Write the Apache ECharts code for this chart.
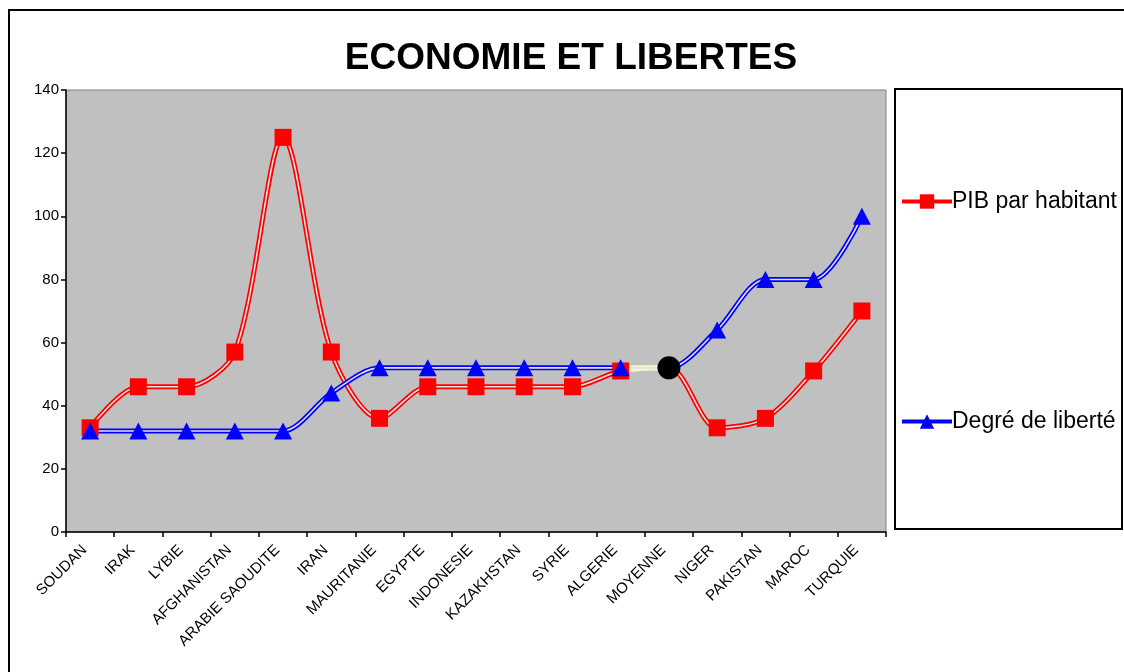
<!DOCTYPE html>
<html>
<head>
<meta charset="utf-8">
<script src="https://cdn.jsdelivr.net/npm/echarts@6/dist/echarts.min.js"></script>
<style>
  html, body { margin: 0; padding: 0; background: #fff; }
  #chart { width: 1124px; height: 672px; }
</style>
</head>
<body>
<div id="chart"></div>
<script>
const categories = ['SOUDAN', 'IRAK', 'LYBIE', 'AFGHANISTAN', 'ARABIE SAOUDITE', 'IRAN', 'MAURITANIE',
  'EGYPTE', 'INDONESIE', 'KAZAKHSTAN', 'SYRIE', 'ALGERIE', 'MOYENNE', 'NIGER', 'PAKISTAN', 'MAROC', 'TURQUIE']
const pibValues = [33, 46, 46, 57, 125, 57, 36, 46, 46, 46, 46, 51, 52, 33, 36, 51, 70]
const liberteValues = [32, 32, 32, 32, 32, 44, 52, 52, 52, 52, 52, 52, 52, 64, 80, 80, 100]
const yTicks = [0, 20, 40, 60, 80, 100, 120, 140]

const moyenneIndex = categories.indexOf('MOYENNE')
const font = 'Liberation Sans, Arial, sans-serif'
const red = '#ff0000'
const blue = '#0000ff'
const pale = '#f6f6c8'
const gap = '#e2e2e2'
const smooth = 0.3

// marker series: square / triangle, MOYENNE drawn as a big black dot on the red one
const pibMarkers = pibValues.map((v, i) =>
  i === moyenneIndex ? { value: v, symbol: 'circle', symbolSize: 23, itemStyle: { color: '#000' } } : v)
const liberteMarkers = liberteValues.map((v, i) =>
  i === moyenneIndex ? { value: v, symbol: 'none' } : v)

// outer stroke takes its colour from the visualMap (pale segment ALGERIE -> MOYENNE)
function outerLine(data, z) {
  return {
    type: 'line', name: 'outer', data, smooth, showSymbol: false, silent: true, z,
    lineStyle: { width: 5 }
  }
}
function innerLine(data, z) {
  return {
    type: 'line', name: 'inner', data, smooth, showSymbol: false, silent: true, z,
    lineStyle: { color: gap, width: 1.6 }
  }
}
function segmentPieces(color) {
  return [
    { max: moyenneIndex - 1, color },
    { gt: moyenneIndex - 1, lt: moyenneIndex, color: pale },
    { min: moyenneIndex, color }
  ]
}

const chart = echarts.init(document.getElementById('chart'))

chart.setOption({
  animation: false,
  textStyle: { fontFamily: font, color: '#000' },
  title: {
    text: 'ECONOMIE ET LIBERTES',
    left: 566,
    textAlign: 'center',
    top: 35,
    textStyle: { fontFamily: font, fontSize: 37, fontWeight: 'bold', color: '#000' }
  },
  graphic: [
    { type: 'rect', z: -10, shape: { x: 9, y: 10, width: 1200, height: 800 },
      style: { fill: 'none', stroke: '#000', lineWidth: 2 } },
    { type: 'rect', z: -10, shape: { x: 895, y: 89, width: 227, height: 440 },
      style: { fill: '#fff', stroke: '#000', lineWidth: 2 } }
  ],
  legend: {
    data: ['PIB par habitant', 'Degré de liberté'],
    orient: 'vertical',
    left: 895,
    top: 185,
    itemWidth: 50,
    itemHeight: 18,
    itemGap: 197,
    textStyle: { fontFamily: font, fontSize: 23, color: '#000', padding: [0, 0, 0, -5] },
    lineStyle: { opacity: 1, width: 4 }
  },
  visualMap: [
    { show: false, type: 'piecewise', seriesIndex: 0, dimension: 0, pieces: segmentPieces(red) },
    { show: false, type: 'piecewise', seriesIndex: 2, dimension: 0, pieces: segmentPieces(blue) }
  ],
  grid: {
    left: 66, right: 238, top: 90, bottom: 140,
    show: true, backgroundColor: '#c0c0c0', borderColor: '#808080', borderWidth: 1
  },
  xAxis: {
    type: 'category',
    data: categories,
    boundaryGap: true,
    axisLine: { lineStyle: { color: '#000', width: 1.5 } },
    axisTick: { show: true, length: 5, interval: 0, lineStyle: { color: '#000', width: 1.5 } },
    axisLabel: {
      interval: 0, rotate: 45, margin: 10, fontSize: 15, color: '#000', fontFamily: font,
      padding: [0, 8, 0, 0]
    },
    splitLine: { show: false }
  },
  yAxis: {
    type: 'value',
    min: yTicks[0],
    max: yTicks[yTicks.length - 1],
    interval: 20,
    axisLine: { show: true, lineStyle: { color: '#000', width: 1.5 } },
    axisTick: { show: true, length: 5, lineStyle: { color: '#000', width: 1.5 } },
    axisLabel: { fontSize: 15, color: '#000', fontFamily: font, margin: 7 },
    splitLine: { show: false }
  },
  series: [
    outerLine(pibValues, 2),
    innerLine(pibValues, 3),
    outerLine(liberteValues, 4),
    innerLine(liberteValues, 5),
    {
      type: 'line', name: 'PIB par habitant', data: pibMarkers, z: 6,
      symbol: 'rect', symbolSize: 17,
      itemStyle: { color: red },
      lineStyle: { color: red, opacity: 0 }
    },
    {
      type: 'line', name: 'Degré de liberté', data: liberteMarkers, z: 7,
      symbol: 'triangle', symbolSize: [18, 17],
      itemStyle: { color: blue },
      lineStyle: { color: blue, opacity: 0 }
    }
  ]
})
</script>
</body>
</html>
